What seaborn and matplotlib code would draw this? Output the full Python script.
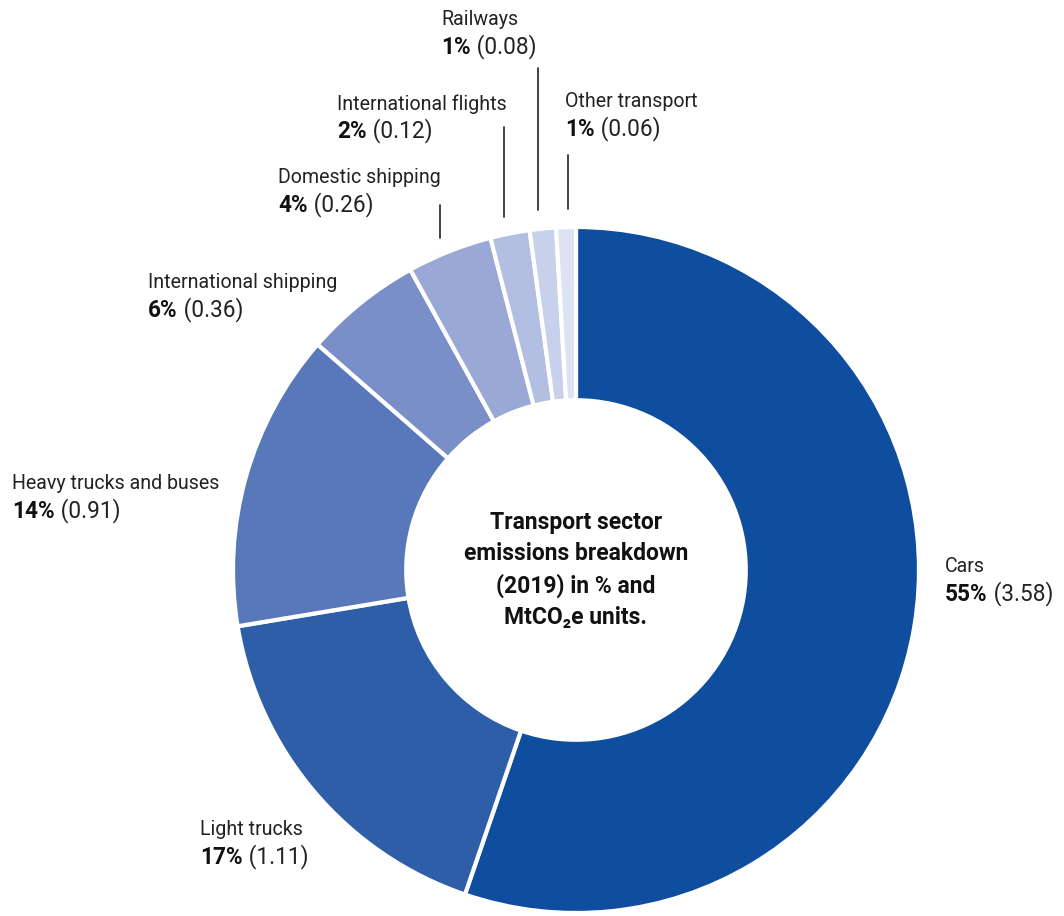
import matplotlib
matplotlib.use("Agg")
import matplotlib.pyplot as plt
import seaborn as sns

sns.set_theme(style="white")
plt.rcParams['font.family'] = ['Roboto', 'DejaVu Sans']

# Data
categories = ["Cars", "Light trucks", "Heavy trucks and buses", "International shipping",
              "Domestic shipping", "International flights", "Railways", "Other transport"]
values = [3.58, 1.11, 0.91, 0.36, 0.26, 0.12, 0.08, 0.06]
percents = [55, 17, 14, 6, 4, 2, 1, 1]
colors = ["#0f4e9e", "#2f5ea9", "#5878b9", "#7a8fc7", "#99a8d5", "#b3bfe2", "#c8d1ec", "#dde3f3"]

W, H = 1064, 916
fig = plt.figure(figsize=(W / 100, H / 100), dpi=100)
ax = fig.add_axes([0, 0, 1, 1])

cx, cy, R = 576, H - 570, 343
ax.pie(values, colors=colors, startangle=90, counterclock=False,
       center=(cx, cy), radius=R, frame=True,
       wedgeprops=dict(width=R * 0.505, edgecolor="white", linewidth=3))
ax.set_xlim(0, W)
ax.set_ylim(0, H)
ax.set_aspect("equal")
ax.axis("off")

# label positions (left x, top y in pixel coords from top)
label_pos = {
    "Cars": (945, 557),
    "Light trucks": (200, 820),
    "Heavy trucks and buses": (12, 474),
    "International shipping": (148, 273),
    "Domestic shipping": (278, 168),
    "International flights": (337, 94),
    "Railways": (441, 10),
    "Other transport": (565, 92),
}
fs_name = 14.1
fs_val = 16.3
for cat, val, pct in zip(categories, values, percents):
    x, ytop = label_pos[cat]
    ax.text(x, H - ytop, cat, fontsize=fs_name, color="#222222", ha="left", va="top")
    t = ax.text(x, H - ytop - 26, f"{pct}%", fontsize=fs_val, fontweight="bold",
                color="#111111", ha="left", va="top")
    ax.annotate(f" ({val:.2f})", xy=(1, 0), xycoords=t, fontsize=fs_val,
                color="#222222", ha="left", va="bottom")

# leader lines
leaders = [(440, 205, 238), (504, 127, 217), (538, 68, 210), (568, 155, 209)]
for x, y0, y1 in leaders:
    ax.plot([x, x], [H - y0, H - y1], color="#222222", lw=1.2)

ax.text(cx, cy, "Transport sector\nemissions breakdown\n(2019) in % and\nMtCO\u2082e units.",
        ha="center", va="center", fontsize=16.5, fontweight="bold", color="#111111",
        linespacing=1.45, family=['Roboto', 'DejaVu Sans'])

fig.savefig("out.png", dpi=100, facecolor="white")
